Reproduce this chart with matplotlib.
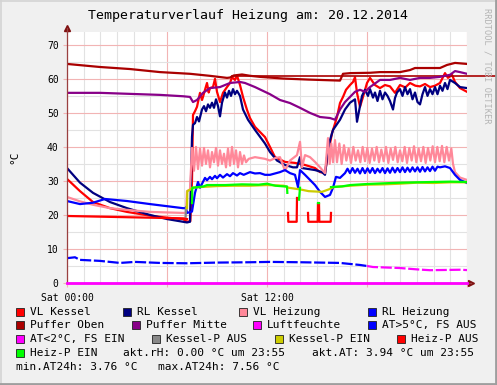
import numpy as np
import matplotlib
matplotlib.use("Agg")
import matplotlib.pyplot as plt
from matplotlib.patches import Rectangle
from matplotlib.lines import Line2D

nan = float("nan")
W, H = 497, 385

vl_kessel = [
    (0.00, 30.6), (0.78, 27.0), (1.56, 23.8), (2.58, 22.0), (3.60, 20.9), (4.98, 19.8),
    (6.00, 19.2), (6.96, 18.8), (7.20, 18.0), (7.40, 18.2), (7.50, 30.0), (7.56, 49.4),
    (7.68, 50.5), (7.80, 51.8), (7.98, 55.9), (8.10, 53.8), (8.16, 54.7), (8.28, 56.8),
    (8.40, 58.8), (8.50, 56.0), (8.58, 57.3), (8.76, 57.6), (8.88, 60.0), (9.00, 56.2),
    (9.18, 53.2), (9.36, 55.9), (9.60, 57.6), (9.78, 58.8), (9.90, 60.5), (10.08, 59.7),
    (10.20, 61.0), (10.38, 58.2), (10.56, 54.7), (10.80, 50.9), (10.98, 48.5), (11.28, 45.9),
    (11.58, 44.4), (11.88, 42.9), (12.18, 40.0), (12.48, 37.0), (13.08, 35.6), (13.68, 35.3),
    (14.28, 34.7), (14.88, 33.8), (15.18, 32.6), (15.48, 32.3), (15.66, 38.0), (15.90, 44.0),
    (16.20, 48.8), (16.38, 52.9), (16.56, 54.7), (16.74, 56.8), (16.98, 58.2), (17.16, 59.1),
    (17.28, 60.5), (17.40, 55.9), (17.58, 51.8), (17.76, 54.7), (18.00, 58.8), (18.18, 60.3),
    (18.48, 58.2), (18.78, 57.3), (19.08, 58.2), (19.38, 57.8), (19.68, 55.9), (19.98, 58.2),
    (20.30, 57.5), (20.58, 58.8), (20.90, 58.0), (21.18, 57.8), (21.48, 58.5), (21.78, 57.6),
    (22.08, 58.0), (22.38, 58.8), (22.68, 61.7), (22.86, 60.3), (23.10, 61.2), (23.28, 59.1),
    (23.58, 57.3), (24.00, 56.2),
]

rl_kessel = [
    (0.00, 33.8), (0.78, 29.5), (1.56, 26.5), (2.58, 23.8), (3.60, 22.0), (4.98, 20.0),
    (6.00, 18.8), (6.96, 18.0), (7.20, 17.8), (7.38, 18.0), (7.50, 43.0), (7.56, 46.5),
    (7.68, 47.0), (7.80, 48.8), (7.92, 47.5), (8.10, 51.0), (8.22, 52.0), (8.34, 50.5),
    (8.46, 52.5), (8.58, 51.5), (8.70, 53.0), (8.82, 51.5), (8.94, 54.0), (9.06, 52.0),
    (9.18, 49.0), (9.30, 53.0), (9.48, 56.0), (9.60, 54.5), (9.72, 56.5), (9.84, 55.0),
    (9.96, 57.0), (10.08, 55.5), (10.20, 56.5), (10.38, 55.0), (10.56, 51.0), (10.86, 48.0),
    (11.28, 45.0), (11.58, 43.0), (11.88, 41.0), (12.18, 38.5), (12.60, 36.0), (13.08, 34.7),
    (13.56, 34.0), (13.80, 34.0), (13.98, 37.0), (14.10, 33.8), (14.88, 33.2), (15.30, 32.6),
    (15.48, 31.8), (15.60, 37.0), (15.78, 42.0), (15.96, 45.0), (16.38, 48.0), (16.68, 51.0),
    (16.98, 53.0), (17.28, 54.0), (17.40, 47.4), (17.58, 52.0), (17.70, 55.0), (17.88, 56.8),
    (18.06, 55.0), (18.18, 57.0), (18.36, 54.5), (18.48, 56.0), (18.63, 53.5), (18.78, 56.5),
    (18.93, 54.0), (19.08, 56.0), (19.23, 55.0), (19.38, 53.5), (19.56, 51.0), (19.68, 54.4),
    (19.80, 56.0), (19.98, 57.0), (20.13, 55.0), (20.28, 57.6), (20.43, 55.5), (20.58, 57.0),
    (20.73, 54.0), (20.88, 56.0), (21.03, 53.2), (21.18, 52.5), (21.33, 55.5), (21.48, 57.6),
    (21.63, 55.0), (21.78, 57.0), (21.93, 55.5), (22.08, 57.6), (22.23, 55.5), (22.38, 58.0),
    (22.53, 56.5), (22.68, 58.8), (22.83, 57.0), (22.98, 59.7), (23.28, 58.8), (23.58, 57.6),
    (24.00, 57.3),
]

vl_heizung = [
    (0.00, 25.3), (0.78, 24.0), (1.56, 23.0), (2.58, 22.0), (3.60, 21.5), (4.98, 20.9),
    (6.96, 20.6), (7.14, 20.6), (7.20, 27.0), (7.38, 27.5), (7.50, 39.7), (7.62, 33.0),
    (7.74, 40.0), (7.86, 33.5), (7.98, 39.5), (8.10, 34.5), (8.22, 39.7), (8.34, 35.0),
    (8.46, 39.0), (8.58, 34.0), (8.70, 38.5), (8.82, 35.5), (8.94, 39.7), (9.06, 34.5),
    (9.18, 39.0), (9.30, 35.0), (9.42, 38.0), (9.54, 34.0), (9.66, 39.5), (9.78, 34.5),
    (9.90, 40.0), (10.02, 35.0), (10.14, 39.0), (10.26, 34.0), (10.38, 38.5), (10.50, 35.0),
    (10.62, 37.5), (10.74, 35.5), (10.90, 36.5), (11.28, 37.0), (11.88, 36.5), (12.18, 36.0),
    (12.48, 36.7), (12.78, 37.0), (13.08, 33.0), (13.38, 36.0), (13.80, 37.6), (13.98, 41.5),
    (14.10, 34.0), (14.28, 37.6), (14.58, 37.0), (14.88, 35.6), (15.18, 34.0), (15.48, 32.3),
    (15.66, 42.6), (15.76, 35.0), (15.86, 41.0), (15.96, 35.5), (16.08, 42.0), (16.20, 35.5),
    (16.34, 41.0), (16.48, 35.0), (16.62, 40.5), (16.76, 36.0), (16.90, 39.5), (17.04, 35.3),
    (17.18, 40.0), (17.32, 36.0), (17.46, 39.0), (17.60, 35.5), (17.74, 40.0), (17.88, 35.8),
    (18.02, 39.7), (18.16, 35.3), (18.30, 39.5), (18.44, 36.0), (18.58, 40.0), (18.72, 35.5),
    (18.86, 39.2), (19.00, 35.8), (19.14, 40.0), (19.28, 35.3), (19.42, 39.5), (19.56, 36.2),
    (19.70, 40.0), (19.84, 35.5), (19.98, 39.0), (20.12, 35.8), (20.26, 40.0), (20.40, 35.3),
    (20.54, 39.7), (20.68, 36.0), (20.82, 40.2), (20.96, 35.5), (21.10, 39.5), (21.24, 35.8),
    (21.38, 40.0), (21.52, 35.3), (21.66, 39.7), (21.80, 36.0), (21.94, 40.2), (22.08, 35.5),
    (22.22, 40.0), (22.36, 35.8), (22.50, 40.3), (22.64, 35.5), (22.78, 40.0), (22.92, 36.0),
    (23.06, 39.5), (23.16, 35.0), (23.28, 32.6), (23.58, 31.0), (24.00, 30.3),
]

rl_heizung = [
    (0.00, 24.1), (0.78, 23.2), (1.56, 23.6), (2.28, 24.7), (3.60, 24.1), (4.98, 23.2),
    (6.96, 22.0), (7.14, 22.0), (7.20, 20.6), (7.50, 21.0), (7.68, 26.5), (7.86, 29.7),
    (7.98, 28.0), (8.28, 30.9), (8.40, 30.2), (8.58, 31.2), (8.70, 30.5), (8.88, 31.5),
    (9.00, 30.8), (9.18, 31.8), (9.36, 31.0), (9.60, 32.0), (9.78, 31.4), (9.96, 32.3),
    (10.20, 31.6), (10.38, 32.3), (10.60, 31.8), (10.98, 32.6), (11.28, 32.2), (11.58, 32.3),
    (11.88, 31.8), (12.18, 31.8), (12.78, 32.6), (13.08, 33.2), (13.38, 32.3), (13.68, 31.8),
    (13.86, 28.2), (13.98, 33.2), (14.28, 31.8), (14.88, 28.8), (15.18, 26.8), (15.48, 25.3),
    (15.78, 25.9), (15.96, 28.0), (16.14, 31.2), (16.38, 30.9), (16.68, 32.3), (16.83, 33.6),
    (16.98, 32.3), (17.13, 33.8), (17.28, 32.4), (17.43, 33.6), (17.58, 32.2), (17.73, 33.8),
    (17.88, 32.3), (18.03, 33.7), (18.18, 32.4), (18.33, 33.8), (18.48, 32.3), (18.63, 33.6),
    (18.78, 32.5), (18.93, 33.8), (19.08, 32.3), (19.23, 33.7), (19.38, 32.4), (19.53, 33.9),
    (19.68, 32.5), (19.83, 33.8), (19.98, 32.6), (20.13, 34.0), (20.28, 32.6), (20.43, 33.9),
    (20.58, 32.7), (20.73, 34.0), (20.88, 32.8), (21.03, 34.0), (21.18, 32.7), (21.33, 34.1),
    (21.48, 32.8), (21.63, 34.0), (21.78, 32.9), (21.93, 34.2), (22.08, 33.0), (22.23, 34.2),
    (22.38, 34.0), (22.68, 34.3), (22.98, 33.8), (23.28, 31.8), (23.58, 30.3), (24.00, 29.4),
]

puffer_oben = [
    (0.00, 64.4), (1.98, 63.5), (3.78, 62.9), (5.58, 62.0), (7.38, 61.5), (8.58, 60.9),
    (9.60, 60.3), (9.78, 60.4), (10.00, 61.0), (10.50, 61.3), (11.00, 60.9), (11.58, 60.6),
    (13.00, 60.1), (14.50, 59.8), (16.38, 59.5), (16.56, 61.5), (17.00, 61.7), (18.18, 61.8),
    (18.78, 62.0), (19.98, 62.0), (20.58, 62.6), (20.88, 63.2), (22.38, 63.2), (22.80, 64.1),
    (23.28, 64.7), (24.00, 64.4),
]
puffer_oben_linie = 61.0
puffer_oben_linie_ab = 9.9

puffer_mitte = [
    (0.00, 55.9), (1.98, 55.9), (5.58, 55.3), (6.96, 54.9), (7.38, 54.7), (7.56, 53.2),
    (7.80, 53.8), (8.16, 55.9), (8.58, 57.3), (9.18, 57.6), (9.78, 58.8), (10.38, 59.1),
    (10.68, 58.8), (11.28, 57.6), (11.88, 56.2), (12.18, 55.5), (12.78, 53.8), (13.38, 52.9),
    (13.98, 51.5), (14.58, 50.0), (15.18, 48.8), (15.78, 48.5), (16.08, 48.0), (16.38, 51.0),
    (16.68, 53.2), (16.98, 54.7), (17.28, 56.2), (17.58, 56.8), (17.88, 56.2), (18.18, 57.6),
    (18.78, 59.7), (19.38, 59.7), (19.98, 60.3), (20.58, 59.7), (21.18, 60.3), (21.78, 60.3),
    (22.38, 60.6), (22.98, 61.2), (23.28, 62.3), (23.58, 62.0), (24.00, 61.5),
]

luftfeuchte = [(0.0, 0.0), (24.0, 0.0)]

aussen = [
    (0.00, 7.3), (0.48, 7.56), (0.78, 6.8), (1.98, 6.5), (3.18, 5.9), (4.08, 6.2),
    (5.58, 5.9), (7.20, 5.8), (9.00, 6.0), (10.98, 6.1), (12.18, 6.2), (14.00, 6.1),
    (16.38, 5.9), (17.58, 5.3), (18.00, 5.0), (18.36, 4.7), (19.98, 4.4), (21.00, 4.0),
    (21.78, 3.76), (23.58, 3.9), (24.00, 3.8),
]
at_grenze = 5.0

kessel_p_aus = [(7.12, 19.5), (7.14, 22.3)]

kessel_p_ein = [
    (7.20, 22.0), (7.22, 27.0), (7.40, 27.5), (7.50, 28.0), (8.00, 28.2), (9.00, 28.5),
    (10.00, 28.6), (11.00, 28.6), (12.00, 28.8), (13.00, 28.6), (13.30, 28.0), (14.00, 27.5),
    (14.50, 27.0), (15.30, 26.8), (15.70, 27.5), (16.00, 28.2), (17.00, 28.6), (18.00, 28.9),
    (19.00, 29.0), (20.00, 29.2), (21.00, 29.5), (22.00, 29.4), (23.00, 29.6), (24.00, 29.6),
]

heiz_p_aus = [
    (0.00, 19.7), (2.00, 19.5), (4.00, 19.3), (6.00, 19.1), (7.00, 19.0), (7.20, 18.8),
    (7.22, nan),
    (13.26, 20.6), (13.28, 18.0), (13.78, 18.0), (13.80, 25.0),
    (13.82, nan),
    (14.46, 20.6), (14.48, 18.0), (15.04, 18.0), (15.06, 23.5), (15.12, 23.5), (15.14, 18.0),
    (15.82, 18.0), (15.84, 20.6),
]

heiz_p_ein = [
    (7.50, 23.5), (7.52, 28.0), (8.20, 28.4), (8.40, 28.8), (9.50, 28.8), (10.50, 29.0),
    (11.50, 28.9), (12.00, 29.2), (12.50, 28.6), (13.00, 28.4), (13.20, 28.4), (13.22, 26.5),
    (13.24, nan),
    (13.92, 24.5), (13.98, 28.0),
    (14.00, nan),
    (15.06, 23.5), (15.12, 23.5),
    (15.14, nan),
    (15.84, 28.2), (16.50, 28.4), (17.00, 28.8), (18.00, 29.1), (19.00, 29.3), (20.00, 29.5),
    (21.00, 29.6), (22.00, 29.7), (23.00, 29.8), (24.00, 29.7),
]

akt_rh = "0.00"
akt_at = "3.94"
min_at = "3.76"
max_at = "7.56"


def xy(pairs):
    a = np.array(pairs, dtype=float)
    return a[:, 0], a[:, 1]


def fx(px):
    return px / W


def fy(py):
    return 1 - py / H


mono = "DejaVu Sans Mono"
plt.rcParams["font.family"] = mono

fig = plt.figure(figsize=(W / 100, H / 100), dpi=100, facecolor="#F0F0F0")
ax = fig.add_axes([fx(67), fy(283), 400 / W, 250.7 / H])
ax.set_facecolor("white")
ax.set_xlim(0, 24)
ax.set_ylim(0, 73.7)

# Gitter
ax.set_xticks([0, 6, 12, 18, 24])
ax.set_xticklabels(["Sat 00:00", "", "Sat 12:00", "", ""])
ax.set_xticks(np.arange(0, 25, 1), minor=True)
ax.set_yticks(np.arange(0, 71, 10))
ax.set_yticks(np.arange(0, 74, 5), minor=True)
ax.grid(which="minor", color="#E2E2E2", lw=0.8)
ax.grid(which="major", color="#F2B4B4", lw=0.8)
ax.set_axisbelow(True)
ax.tick_params(which="major", length=3, width=0.8, color="#F2B4B4", labelsize=7, pad=3)
ax.tick_params(which="minor", length=0)
ax.tick_params(axis="x", pad=4)
for s in ["top", "right"]:
    ax.spines[s].set_visible(False)
for s in ["left", "bottom"]:
    ax.spines[s].set_color("#9A4040")
    ax.spines[s].set_linewidth(0.9)

lw = 1.6
t, v = xy(vl_kessel)
ax.plot(t, v, color="#FF0000", lw=lw)
t, v = xy(rl_kessel)
ax.plot(t, v, color="#000080", lw=lw)
t, v = xy(vl_heizung)
ax.plot(t, v, color="#FF8899", lw=lw)
t, v = xy(rl_heizung)
ax.plot(t, v, color="#0000FF", lw=lw)
t, v = xy(puffer_oben)
ax.plot(t, v, color="#AA0000", lw=lw)
t0 = puffer_oben_linie_ab / 24
ax.axhline(puffer_oben_linie, xmin=t0, xmax=(497 - 67) / 400, color="#AA0000", lw=1.2, clip_on=False)
t, v = xy(puffer_mitte)
ax.plot(t, v, color="#880088", lw=lw)
t, v = xy(luftfeuchte)
ax.plot(t, v, color="#FF00FF", lw=2, clip_on=False, zorder=3)

t, v = xy(aussen)
lo = v < at_grenze
lo_ext = lo.copy()
lo_ext[:-1] |= lo[1:]
ax.plot(t, np.where(~lo, v, np.nan), color="#0000FF", lw=lw, dashes=(5, 1.2))
ax.plot(t, np.where(lo_ext, v, np.nan), color="#FF00FF", lw=lw, dashes=(5, 1.2))

t, v = xy(kessel_p_aus)
ax.plot(t, v, color="#888888", lw=lw)
t, v = xy(kessel_p_ein)
ax.plot(t, v, color="#CCCC00", lw=lw)
t, v = xy(heiz_p_aus)
ax.plot(t, v, color="#FF0000", lw=lw)
t, v = xy(heiz_p_ein)
ax.plot(t, v, color="#00FF00", lw=lw)

# Achsenpfeile
ax.plot([0], [1 + 4 / 250.7], marker="^", ms=4.5, color="#7F1010", transform=ax.transAxes, clip_on=False)
ax.plot([0, 0], [1, 1 + 4 / 250.7], color="#9A4040", lw=0.9, transform=ax.transAxes, clip_on=False)
ax.plot([1 + 4 / 400], [0], marker=">", ms=4.5, color="#7F1010", transform=ax.transAxes, clip_on=False)
ax.plot([1, 1 + 4 / 400], [0, 0], color="#9A4040", lw=0.9, transform=ax.transAxes, clip_on=False)

# Texte
fig.text(fx(248), fy(16), "Temperaturverlauf Heizung am: 20.12.2014", ha="center", va="center", fontsize=9.5)
fig.text(fx(14), fy(157), "°C", rotation=90, ha="center", va="center", fontsize=8)
fig.text(fx(487), fy(8), "RRDTOOL / TOBI OETIKER", rotation=270, ha="center", va="top",
         fontsize=6.2, color="#B4B4B4")

legende = [
    (312, 16, "#FF0000", "VL Kessel"), (312, 123, "#000080", "RL Kessel"),
    (312, 239, "#FF8899", "VL Heizung"), (312, 368, "#0000FF", "RL Heizung"),
    (325, 16, "#AA0000", "Puffer Oben"), (325, 132, "#880088", "Puffer Mitte"),
    (325, 253, "#FF00FF", "Luftfeuchte"), (325, 368, "#0000FF", "AT>5°C, FS AUS"),
    (339, 16, "#FF00FF", "AT<2°C, FS EIN"), (339, 152, "#888888", "Kessel-P AUS"),
    (339, 275, "#CCCC00", "Kessel-P EIN"), (339, 397, "#FF0000", "Heiz-P AUS"),
    (353, 16, "#00FF00", "Heiz-P EIN"),
]
for yc, sx, col, lab in legende:
    fig.add_artist(Rectangle((fx(sx), fy(yc + 4)), 8 / W, 8 / H, transform=fig.transFigure,
                             facecolor=col, edgecolor="#202020", lw=0.6))
    fig.text(fx(sx + 14), fy(yc), lab, ha="left", va="center", fontsize=8)

fig.text(fx(123), fy(353), f"akt.rH: {akt_rh} °C um 23:55", ha="left", va="center", fontsize=8)
fig.text(fx(312), fy(353), f"akt.AT: {akt_at} °C um 23:55", ha="left", va="center", fontsize=8)
fig.text(fx(16), fy(367), f"min.AT24h: {min_at} °C", ha="left", va="center", fontsize=8)
fig.text(fx(158), fy(367), f"max.AT24h: {max_at} °C", ha="left", va="center", fontsize=8)

# Rahmen
fig.add_artist(Line2D([0, 1], [fy(0.5), fy(0.5)], color="#D4D4D4", lw=1.2))
fig.add_artist(Line2D([fx(0.5), fx(0.5)], [0, 1], color="#D4D4D4", lw=1.2))
fig.add_artist(Line2D([0, 1], [fy(384), fy(384)], color="#9E9E9E", lw=2))
fig.add_artist(Line2D([fx(496), fx(496)], [0, 1], color="#9E9E9E", lw=2))

fig.savefig("out.png", dpi=100, facecolor=fig.get_facecolor())
